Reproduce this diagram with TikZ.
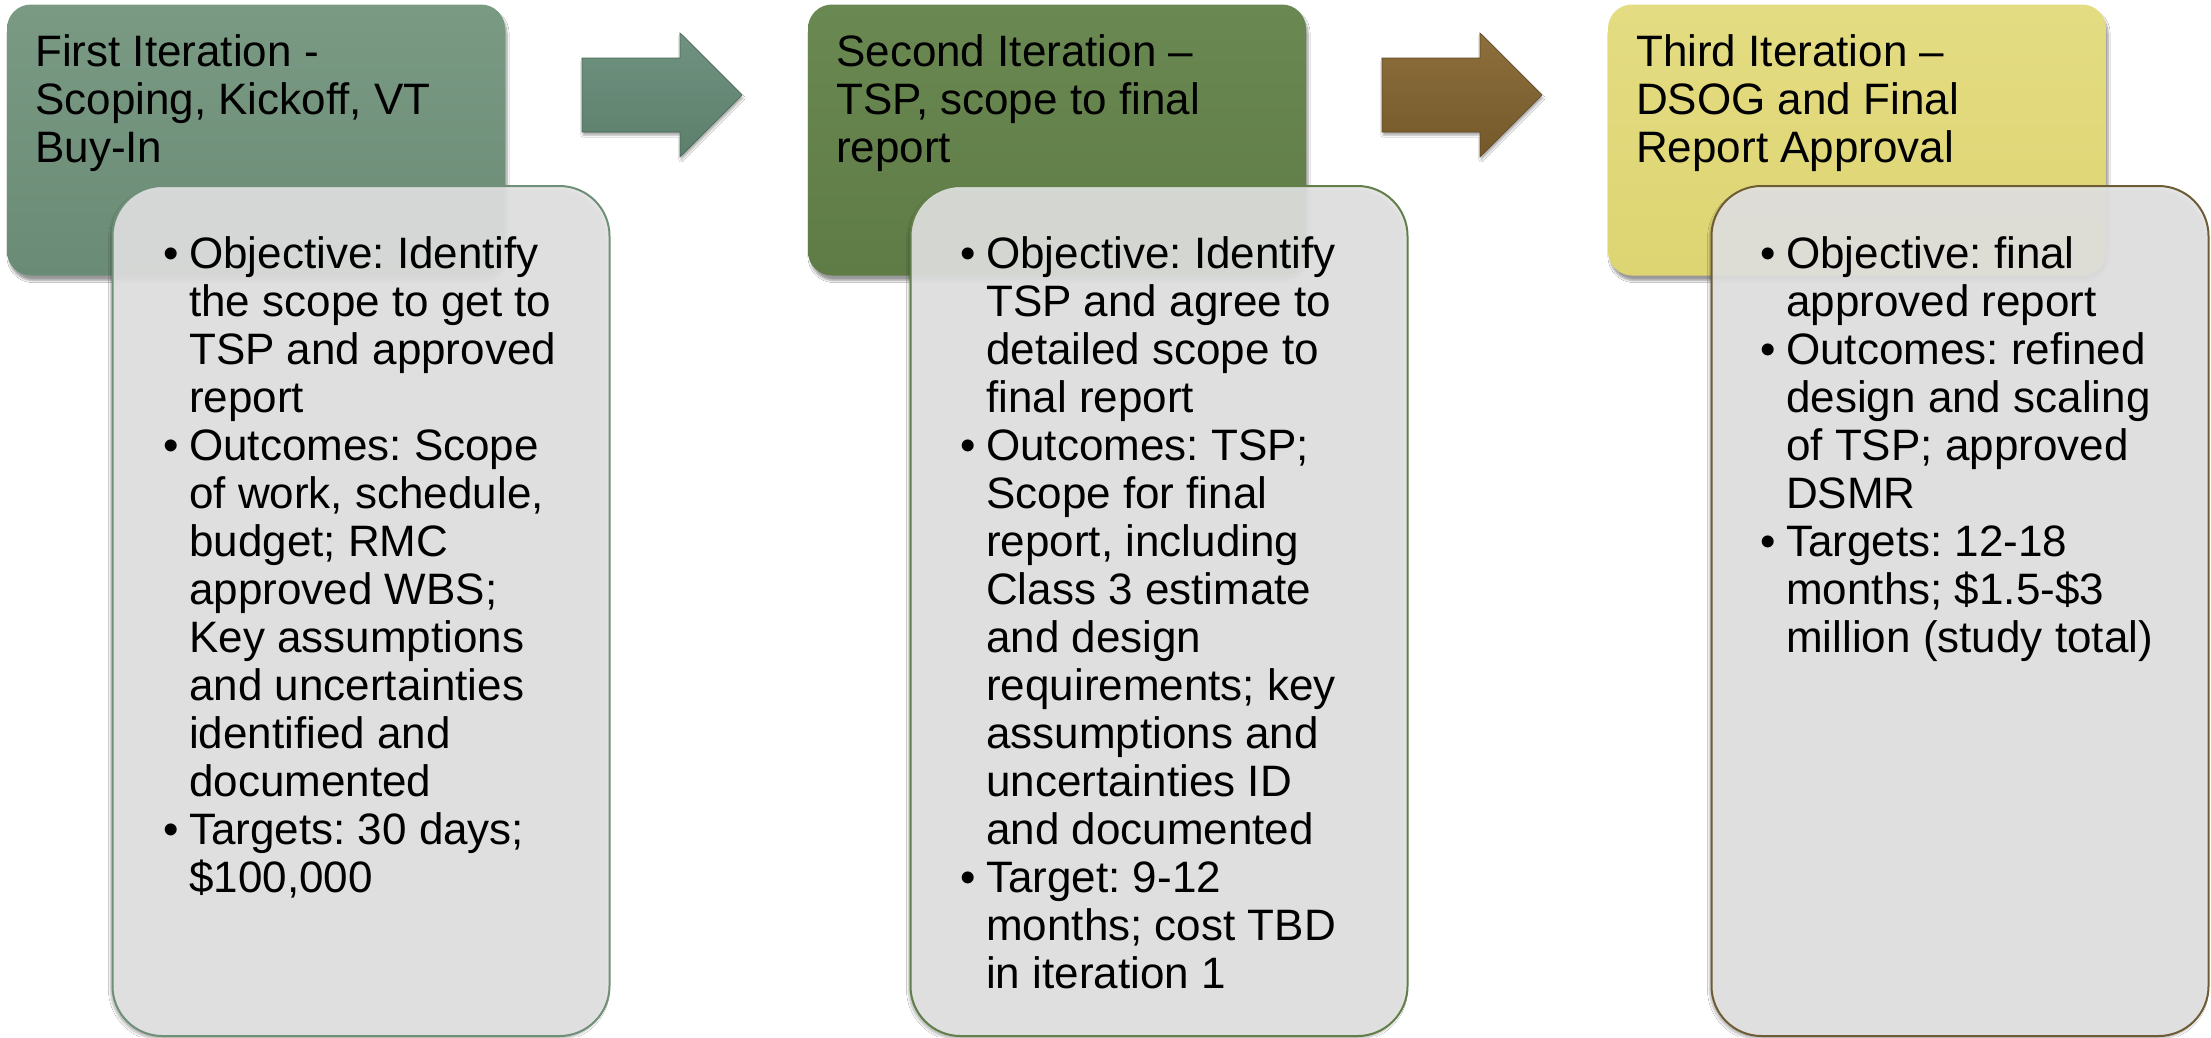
\documentclass[tikz,border=0pt]{standalone}
\usepackage{fontspec}
\setmainfont{Liberation Sans}
\usetikzlibrary{shadows.blur}
\frenchspacing
\definecolor{hA}{HTML}{6A8B75}
\definecolor{hAtop}{HTML}{7A9A84}
\definecolor{hB}{HTML}{5F7C46}
\definecolor{hBtop}{HTML}{6A8851}
\definecolor{hC}{HTML}{DDD472}
\definecolor{hCtop}{HTML}{E4DC82}
\definecolor{arA}{HTML}{5B7F6B}
\definecolor{arAtop}{HTML}{6F9380}
\definecolor{arB}{HTML}{76592A}
\definecolor{arBtop}{HTML}{8C6F3C}
\definecolor{bdA}{HTML}{6F8F79}
\definecolor{bdB}{HTML}{627F4A}
\definecolor{bdC}{HTML}{6E5C35}
\definecolor{paneF}{HTML}{E4E4E4}
\newcommand\mybul{\makebox[26pt][l]{•}}
\newcommand\mycont{\hspace*{26pt}}
\tikzset{
  hdr/.style={rectangle, rounded corners=24pt, minimum width=498pt, minimum height=271pt, inner sep=0pt,
    blur shadow={shadow xshift=2pt, shadow yshift=-5pt, shadow blur steps=6, shadow opacity=40}},
  pane/.style={rectangle, rounded corners=50pt, minimum width=497pt, minimum height=850pt, inner sep=0pt,
    fill=paneF, fill opacity=0.9, line width=2pt,
    blur shadow={shadow xshift=-2pt, shadow yshift=-3pt, shadow blur steps=5, shadow opacity=30}},
  txt/.style={anchor=north west, inner sep=0pt, align=left, font=\fontsize{44}{48}\selectfont, text=black},
  barrow/.style={line width=0.6pt,
    blur shadow={shadow xshift=1pt, shadow yshift=-3pt, shadow blur steps=5, shadow opacity=35}}
}
\begin{document}
\begin{tikzpicture}[x=1pt, y=-1pt]
\useasboundingbox (0,0) rectangle (2211,1037);
\fill[white] (0,0) rectangle (2211,1037);

% ---- iteration 1
\node[hdr, top color=hAtop, bottom color=hA] (h1) at (256,140) {};
\node[txt] (t1) at (35,34) {First Iteration -\\Scoping, Kickoff, VT\\Buy-In};
\node[pane, draw=bdA] (p1) at (361,611) {};
\node[txt] (b1) at (163,236) {\mybul Objective: Identify\\\mycont the scope to get to\\\mycont TSP and approved\\\mycont report\\
\mybul Outcomes: Scope\\\mycont of work, schedule,\\\mycont budget; RMC\\\mycont approved WBS;\\\mycont Key assumptions\\\mycont and uncertainties\\\mycont identified and\\\mycont documented\\
\mybul Targets: 30 days;\\\mycont \$100,000};

% ---- arrow 1
\draw[barrow, draw=arA!80!black, top color=arAtop, bottom color=arA]
  (582,58) -- (680,58) -- (680,33) -- (742,95) -- (680,157) -- (680,132) -- (582,132) -- cycle;

% ---- iteration 2
\node[hdr, top color=hBtop, bottom color=hB] (h2) at (1057,140) {};
\node[txt] (t2) at (836,34) {Second Iteration –\\TSP, scope to final\\report};
\node[pane, draw=bdB] (p2) at (1159,611) {};
\node[txt] (b2) at (960,236) {\mybul Objective: Identify\\\mycont TSP and agree to\\\mycont detailed scope to\\\mycont final report\\
\mybul Outcomes: TSP;\\\mycont Scope for final\\\mycont report, including\\\mycont Class 3 estimate\\\mycont and design\\\mycont requirements; key\\\mycont assumptions and\\\mycont uncertainties ID\\\mycont and documented\\
\mybul Target: 9-12\\\mycont months; cost TBD\\\mycont in iteration 1};

% ---- arrow 2
\draw[barrow, draw=arB!80!black, top color=arBtop, bottom color=arB]
  (1382,58) -- (1480,58) -- (1480,33) -- (1542,95) -- (1480,157) -- (1480,132) -- (1382,132) -- cycle;

% ---- iteration 3
\node[hdr, top color=hCtop, bottom color=hC] (h3) at (1857,140) {};
\node[txt] (t3) at (1636,34) {Third Iteration –\\DSOG and Final\\Report Approval};
\node[pane, draw=bdC] (p3) at (1960,611) {};
\node[txt] (b3) at (1760,236) {\mybul Objective: final\\\mycont approved report\\
\mybul Outcomes: refined\\\mycont design and scaling\\\mycont of TSP; approved\\\mycont DSMR\\
\mybul Targets: 12-18\\\mycont months; \$1.5-\$3\\\mycont million (study total)};
\end{tikzpicture}
\end{document}
